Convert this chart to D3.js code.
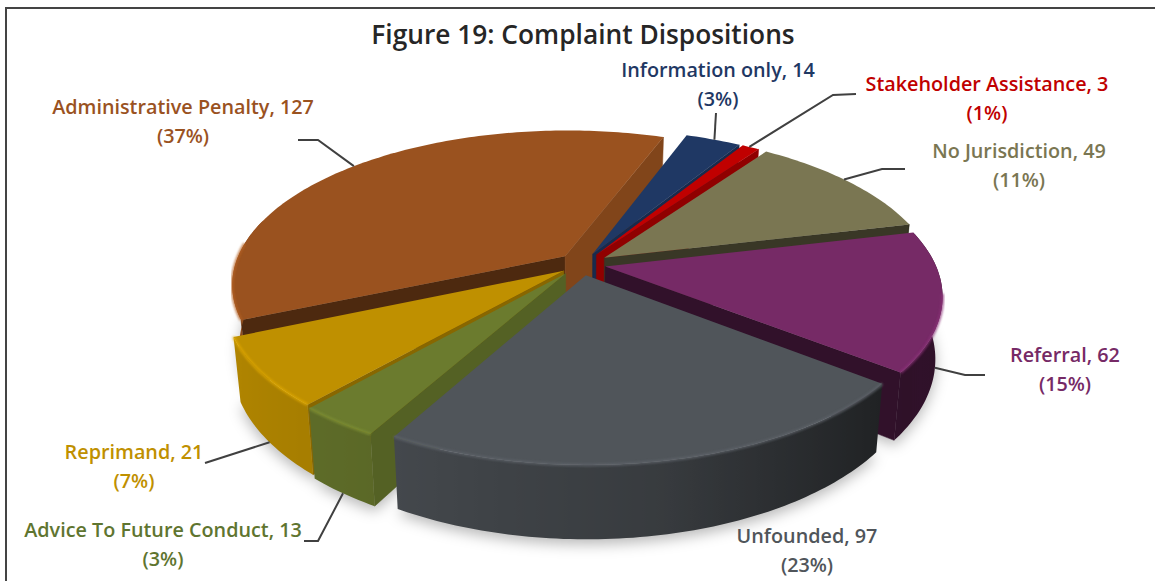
<!DOCTYPE html>
<html><head><meta charset="utf-8">
<script src="https://cdn.jsdelivr.net/npm/d3@7"></script>
<style>html,body{margin:0;background:#fff}svg{display:block}text{font-family:"Open Sans","Noto Sans",sans-serif;font-weight:600;text-anchor:middle}</style>
</head><body><svg id="c" width="1155" height="581"></svg>
<script>
const titleText = "Figure 19: Complaint Dispositions";
const categories = ["Information only","Stakeholder Assistance","No Jurisdiction","Referral","Unfounded","Advice To Future Conduct","Reprimand","Administrative Penalty"];
const counts = [14,3,49,62,97,13,21,127];
const percents = [3,1,11,15,23,3,7,37];
const shares = [3.2,1.0,11.5,14.4,22.4,3.35,7.05,37.1];
const colors = ["#1F3864","#C00000","#7A7652","#762A66","#50555A","#6B7B2E","#BF9000","#9A521F"];
const labelColors = ["#1F3864","#C00000","#7A7652","#762A66","#50555A","#5F7530","#BF9000","#9A521F"];
const labelAnchors = [[718,70],[987,84],[1019,151],[1065,355],[807,536],[163,530],[134,452],[183,107]];
const leaderElbows = [[[716,113]],[[856,94],[833,95]],[[905,169],[882,169]],[[985,375],[965,375]],[],[[304,541],[318,541]],[[205,463]],[[298,140],[318,140]]];
const leaderAngles = [26,33,54.5,104,0,215,233,313];
const sliceNudgeX = [-2,-1,0,-3,-3,-4,0,-1];

const svg = d3.select("#c");
const defs = svg.append("defs");
defs.append("filter").attr("id","soft").attr("x","-20%").attr("y","-20%").attr("width","140%").attr("height","140%")
  .append("feGaussianBlur").attr("stdDeviation",7);
defs.append("filter").attr("id","rim").attr("x","-5%").attr("y","-5%").attr("width","110%").attr("height","110%")
  .append("feGaussianBlur").attr("stdDeviation",1.2);

const rad = d => d*Math.PI/180, deg = r => r*180/Math.PI;
const cx=584, cy=264, fx=330, ky=151, persp=0.18, depth=60, explode=0.075;
const slices = d3.pie().value((d,i)=>shares[i]).sort(null).startAngle(rad(20)).endAngle(rad(380))(categories)
  .map((s,i)=>({...s,i,a0:deg(s.startAngle),a1:deg(s.endAngle),mid:(s.startAngle+s.endAngle)/2}));

function project(s,theta,r,bottom){
  const X=r*Math.sin(theta)+explode*Math.sin(s.mid), Y=r*Math.cos(theta)+explode*Math.cos(s.mid);
  const w=1+persp*Y; let x=cx+fx*X/w, y=cy-ky*Y/w;
  if(bottom){ y+=depth/w; x-=(x-cx)*0.02; }
  return [x+sliceNudgeX[s.i],y];
}
const line=d3.line();
const arcAngles=(a0,a1,step=1)=>{const a=d3.range(a0,a1,step);a.push(a1);return a;};
const radialShade=d3.scaleLinear().domain([110,130,160,220]).range([.5,.9,2.1,2.5]).clamp(true);
const wallShade=d3.scaleLinear().domain([0,74,128,170,210,250,360]).range([2.5,2.5,2.6,1.0,.45,.2,.2]);

// shadow
svg.append("g").attr("filter","url(#soft)").selectAll("path").data(slices).join("path")
  .attr("fill","#000").attr("opacity",.28)
  .attr("d",s=>line([project(s,0,0,true),...arcAngles(s.a0,s.a1).map(a=>project(s,rad(a),1,true))])+"Z")
  .attr("transform","translate(0,5)");

// painter's order, from the back-left round to the front
const dist=s=>{let d=Math.abs(((deg(s.mid)%360)+360)%360-340);return Math.min(d,360-d);};
const ordered=slices.slice().sort((a,b)=>dist(a)-dist(b));

const g=svg.append("g").selectAll("g").data(ordered).join("g");
g.each(function(s){
  const sel=d3.select(this), base=colors[s.i];
  // radial walls that face the viewer
  [[s.a0,s.a0-90],[s.a1,s.a1+90]].filter(([a,n])=>Math.cos(rad(n))<0.2).forEach(([a,n])=>{
    const nn=((n%360)+360)%360, c=d3.color(base).darker(radialShade(nn));
    sel.append("path").attr("fill",c).attr("stroke",c).attr("stroke-width",.5)
      .attr("d",line([project(s,0,0,false),project(s,rad(a),1,false),project(s,rad(a),1,true),project(s,0,0,true)])+"Z");
  });
  // outer wall (only where it faces the viewer), shaded along the arc with a gradient
  const angles=arcAngles(s.a0,s.a1,1).filter(a=>Math.cos(rad(a))<0.25);
  if(angles.length>1){
    const pts=angles.map(a=>({a,x:project(s,rad(a),1,false)[0]}));
    const [x0,x1]=d3.extent(pts,p=>p.x);
    const stopAt=d3.scaleLinear().domain([x0,x1]).range([0,1]);
    const grad=defs.append("linearGradient").attr("id","wall"+s.i).attr("gradientUnits","userSpaceOnUse")
      .attr("x1",x0).attr("x2",x1).attr("y1",0).attr("y2",0);
    grad.selectAll("stop").data(pts.slice().sort((p,q)=>p.x-q.x)).join("stop")
      .attr("offset",p=>stopAt(p.x)).attr("stop-color",p=>d3.color(base).darker(wallShade(p.a%360)));
    const top=angles.map(a=>project(s,rad(a),1,false)), bot=angles.map(a=>project(s,rad(a),1,true)).reverse();
    sel.append("path").attr("fill",`url(#wall${s.i})`).attr("d",line([...top,...bot])+"Z");
  }
  // top face
  sel.append("path").attr("fill",base)
    .attr("d",line([project(s,0,0,false),...arcAngles(s.a0,s.a1).map(a=>project(s,rad(a),1,false))])+"Z");
  // lit rim
  const lo=Math.max(s.a0,100), hi=Math.min(s.a1,275);
  if(hi>lo) sel.append("path").attr("fill","none").attr("filter","url(#rim)")
    .attr("stroke",d3.color(base).brighter(.45)).attr("stroke-width",3).attr("opacity",.75)
    .attr("d",line(arcAngles(lo,hi).map(a=>project(s,rad(a),1,false))));
});

// leaders
svg.append("g").selectAll("path").data(slices.filter(s=>leaderElbows[s.i].length)).join("path")
  .attr("fill","none").attr("stroke","#404040").attr("stroke-width",2)
  .attr("d",s=>{
    const t=rad(leaderAngles[s.i]);
    return line([...leaderElbows[s.i],project(s,t,1,Math.cos(t)<-0.1)]);
  });

// labels
const lab=svg.append("g").selectAll("g").data(slices).join("g").attr("fill",s=>labelColors[s.i])
  .attr("font-size",19.8);
lab.append("text").attr("x",s=>labelAnchors[s.i][0]).attr("y",s=>labelAnchors[s.i][1]+7).text(s=>`${categories[s.i]}, ${counts[s.i]}`);
lab.append("text").attr("x",s=>labelAnchors[s.i][0]).attr("y",s=>labelAnchors[s.i][1]+36).text(s=>`(${percents[s.i]}%)`);

svg.append("text").attr("x",583).attr("y",44).attr("font-size",26.3).attr("fill","#262626").text(titleText);
// frame
svg.append("path").attr("fill","none").attr("stroke","#444").attr("stroke-width",2)
  .attr("d",line([[6,581],[6,8],[1155,8]]));
</script></body></html>
